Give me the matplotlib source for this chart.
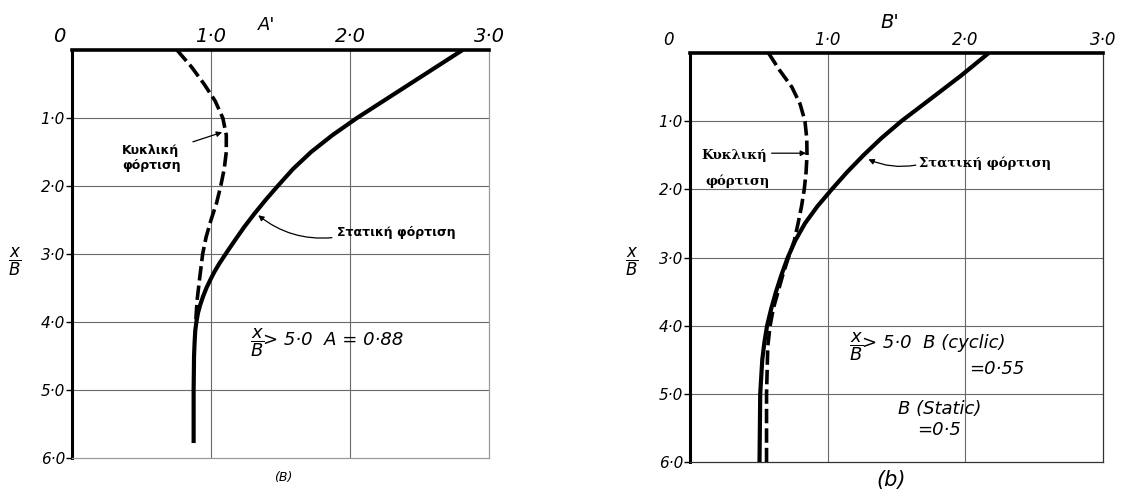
import matplotlib
matplotlib.use("Agg")
import matplotlib.pyplot as plt
from matplotlib.transforms import ScaledTranslation

plt.rcParams["mathtext.fontset"] = "dejavusans"
plt.rcParams["font.family"] = ["DejaVu Sans"]

# ---- data: depth ratio x/B and coefficient values ----
# (a) coefficient A'
depth_static_a = [0.0, 0.25, 0.5, 0.75, 1.0, 1.25, 1.5, 1.75, 2.0, 2.2, 2.4, 2.6, 2.79,
                  2.97, 3.14, 3.26, 3.38, 3.5, 3.63, 3.75, 3.87, 4.0, 4.12, 4.3, 4.5, 5.0, 5.78]
static_a = [2.81, 2.62, 2.43, 2.24, 2.05, 1.875, 1.72, 1.59, 1.48, 1.395, 1.315, 1.24, 1.175,
            1.115, 1.06, 1.025, 0.995, 0.967, 0.942, 0.922, 0.906, 0.895, 0.887, 0.882,
            0.878, 0.875, 0.875]

depth_cyclic_a = [0.0, 0.25, 0.5, 0.75, 1.0, 1.25, 1.5, 1.75, 2.0, 2.25, 2.5, 2.75, 3.0,
                  3.33, 3.68, 4.0]
cyclic_a = [0.755, 0.86, 0.95, 1.03, 1.085, 1.11, 1.11, 1.095, 1.07, 1.04, 1.0, 0.965,
            0.94, 0.92, 0.90, 0.89]

# (b) coefficient B'
depth_static_b = [0.0, 0.33, 0.67, 1.0, 1.25, 1.5, 1.75, 2.0, 2.25, 2.5, 2.75, 3.0, 3.25,
                  3.5, 3.75, 4.0, 4.25, 4.5, 5.0, 6.0]
static_b = [2.17, 1.97, 1.75, 1.535, 1.39, 1.26, 1.14, 1.03, 0.925, 0.835, 0.765, 0.71,
            0.665, 0.625, 0.59, 0.56, 0.54, 0.525, 0.51, 0.505]

depth_cyclic_b = [0.0, 0.25, 0.5, 0.75, 1.0, 1.25, 1.5, 1.75, 2.0, 2.25, 2.5, 2.75, 3.0,
                  3.25, 3.5, 3.75, 4.0, 4.3, 5.0, 6.0]
cyclic_b = [0.57, 0.65, 0.74, 0.80, 0.835, 0.848, 0.85, 0.843, 0.83, 0.81, 0.785, 0.758,
            0.715, 0.675, 0.64, 0.605, 0.582, 0.565, 0.556, 0.556]

x_ticks = [0, 1, 2, 3]
x_tick_labels = ["0", "1·0", "2·0", "3·0"]
y_ticks = [1, 2, 3, 4, 5, 6]
y_tick_labels = ["1·0", "2·0", "3·0", "4·0", "5·0", "6·0"]

W, H = 1126, 497
fig = plt.figure(figsize=(W / 100, H / 100), dpi=100)

ax_a = fig.add_axes([72 / W, 1 - 458 / H, 417 / W, 408 / H])
ax_b = fig.add_axes([690 / W, 1 - 462 / H, 413 / W, 409 / H])

GRID = "#6a6a6a"


def style_panel(ax, top_size, left_size, faint_frame, zero_shift):
    ax.set_xlim(0, 3)
    ax.set_ylim(6, 0)
    ax.xaxis.tick_top()
    ax.set_xticks(x_ticks, x_tick_labels)
    ax.set_yticks(y_ticks, y_tick_labels)
    ax.tick_params(axis="x", length=0, pad=3, labelsize=top_size)
    ax.tick_params(axis="y", length=4, width=1, direction="out", pad=1,
                   labelsize=left_size)
    for lbl in ax.get_xticklabels() + ax.get_yticklabels():
        lbl.set_fontstyle("italic")
    zero = ax.get_xticklabels()[0]
    zero.set_horizontalalignment("right")
    zero.set_transform(zero.get_transform()
                       + ScaledTranslation(-zero_shift, 0, fig.dpi_scale_trans))
    for v in [1, 2]:
        ax.axvline(v, color=GRID, lw=0.8, zorder=1)
    for h in [1, 2, 3, 4, 5]:
        ax.axhline(h, color=GRID, lw=0.8, zorder=1)
    ax.spines["top"].set_linewidth(2.6)
    ax.spines["left"].set_linewidth(2.2)
    for side in ["right", "bottom"]:
        ax.spines[side].set_linewidth(0.9)
        ax.spines[side].set_color("#9a9a9a" if faint_frame else "#333333")


style_panel(ax_a, 14, 11, True, 0.07)
style_panel(ax_b, 12, 11, False, 0.16)

DASH = (0, (4, 1.4))
ARROW = dict(arrowstyle="-|>", lw=0.9, color="k", mutation_scale=8, shrinkA=0, shrinkB=0)
NOTE = dict(fontsize=13, fontstyle="italic", va="center")

# ---- panel (a) ----
ax_a.plot(static_a, depth_static_a, color="k", lw=3.0, solid_capstyle="butt", zorder=3)
ax_a.plot(cyclic_a, depth_cyclic_a, color="k", lw=2.6, ls=DASH, zorder=3)

greek_sans = dict(family=["DejaVu Sans"], fontweight="bold", fontsize=9)
ax_a.text(0.36, 1.59, "Κυκλική\nφόρτιση", ha="left", va="center",
          linespacing=1.25, **greek_sans)
ax_a.annotate("", xy=(1.08, 1.21), xytext=(0.87, 1.35), arrowprops=ARROW)
ax_a.text(1.91, 2.68, "Στατική φόρτιση", ha="left", va="center", **greek_sans)
ax_a.annotate("", xy=(1.34, 2.43), xytext=(1.87, 2.76),
              arrowprops=dict(ARROW, connectionstyle="arc3,rad=-0.2"))

ax_a.text(1.28, 4.31, r"$\dfrac{x}{B}$", ha="left", **NOTE)
ax_a.text(1.375, 4.27, "> 5·0  A = 0·88", ha="left", **NOTE)

# ---- panel (b) ----
ax_b.plot(static_b, depth_static_b, color="k", lw=3.0, solid_capstyle="butt", zorder=3)
ax_b.plot(cyclic_b, depth_cyclic_b, color="k", lw=2.6, ls=DASH, zorder=4)

greek_serif = dict(family=["DejaVu Serif"], fontweight="bold", fontsize=9.5)
ax_b.text(0.086, 1.50, "Κυκλική", ha="left", va="center", **greek_serif)
ax_b.text(0.114, 1.88, "φόρτιση", ha="left", va="center", **greek_serif)
ax_b.annotate("", xy=(0.843, 1.47), xytext=(0.593, 1.47), arrowprops=ARROW)
ax_b.text(1.667, 1.615, "Στατική φόρτιση", ha="left", va="center", **greek_serif)
ax_b.annotate("", xy=(1.296, 1.56), xytext=(1.64, 1.645),
              arrowprops=dict(ARROW, connectionstyle="arc3,rad=-0.15"))

ax_b.text(1.157, 4.31, r"$\dfrac{x}{B}$", ha="left", **NOTE)
ax_b.text(1.25, 4.25, "> 5·0  B (cyclic)", ha="left", **NOTE)
ax_b.text(2.43, 4.64, "=0·55", ha="right", **NOTE)
ax_b.text(1.815, 5.22, "B (Static)", ha="center", **NOTE)
ax_b.text(1.81, 5.53, "=0·5", ha="center", **NOTE)

# ---- figure-level labels ----
fig.text(267 / W, 1 - 25 / H, "A'", ha="center", va="center", fontsize=13,
         fontstyle="italic")
fig.text(890 / W, 1 - 22 / H, "B'", ha="center", va="center", fontsize=14,
         fontstyle="italic")
fig.text(15 / W, 1 - 262 / H, r"$\dfrac{x}{B}$", ha="center", va="center", fontsize=12)
fig.text(632 / W, 1 - 262 / H, r"$\dfrac{x}{B}$", ha="center", va="center", fontsize=12)
fig.text(283 / W, 1 - 477 / H, "(B)", ha="center", va="center", fontsize=9,
         fontstyle="italic")
fig.text(891 / W, 1 - 480 / H, "(b)", ha="center", va="center", fontsize=15,
         fontstyle="italic")

fig.savefig("out.png", dpi=100, facecolor="white")
